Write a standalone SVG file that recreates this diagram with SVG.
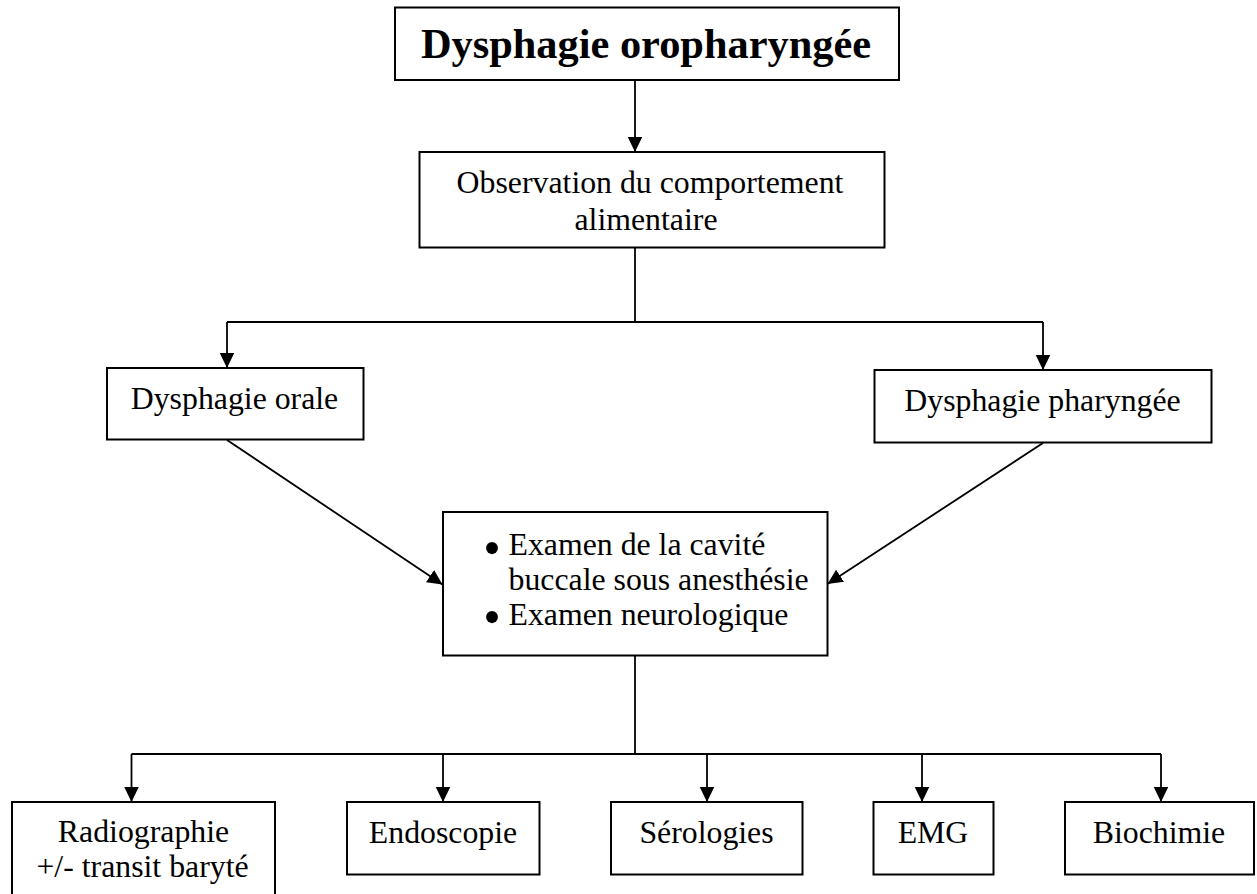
<svg xmlns="http://www.w3.org/2000/svg" width="1257" height="894" viewBox="0 0 1257 894">
  <style>
    .box { fill: #fff; stroke: #000; stroke-width: 2; }
    .wire { fill: none; stroke: #000; stroke-width: 1.8; }
    .lbl { font-family: "Liberation Serif", "Times New Roman", serif; font-size: 31.8px; fill: #000; }
    .mid { text-anchor: middle; }
    .dot { font-family: "Liberation Serif", "Times New Roman", serif; font-size: 50px; fill: #000; text-anchor: middle; }
    .title { font-family: "Liberation Serif", "Times New Roman", serif; font-size: 42.4px; font-weight: bold; fill: #000; text-anchor: middle; }
  </style>
  <defs>
    <marker id="head" markerUnits="userSpaceOnUse" markerWidth="16" markerHeight="15" refX="15" refY="7.25" orient="auto">
      <path d="M0,0 L15,7.25 L0,14.5 z" fill="#000"/>
    </marker>
  </defs>
  <rect width="1257" height="894" fill="#fff"/>

  <!-- connectors -->
  <g id="connectors">
    <line class="wire" x1="635" y1="80" x2="635" y2="152" marker-end="url(#head)"/>
    <polyline class="wire" points="635,247 635,322"/>
    <polyline class="wire" points="227,322 1043,322"/>
    <line class="wire" x1="227" y1="322" x2="227" y2="368" marker-end="url(#head)"/>
    <line class="wire" x1="1043" y1="322" x2="1043" y2="370" marker-end="url(#head)"/>
    <line class="wire" x1="227" y1="440" x2="442.5" y2="584.5" marker-end="url(#head)"/>
    <line class="wire" x1="1043" y1="443" x2="827.5" y2="584" marker-end="url(#head)"/>
    <polyline class="wire" points="635,656 635,754"/>
    <polyline class="wire" points="131.5,754 1161,754"/>
    <line class="wire" x1="131.5" y1="754" x2="131.5" y2="802" marker-end="url(#head)"/>
    <line class="wire" x1="443" y1="754" x2="443" y2="802" marker-end="url(#head)"/>
    <line class="wire" x1="707" y1="754" x2="707" y2="802" marker-end="url(#head)"/>
    <line class="wire" x1="922" y1="754" x2="922" y2="802" marker-end="url(#head)"/>
    <line class="wire" x1="1161" y1="754" x2="1161" y2="802" marker-end="url(#head)"/>
  </g>

  <g id="n-titre">
    <rect class="box" x="395" y="7.5" width="504" height="72.5"/>
    <text class="title" x="646" y="58">Dysphagie oropharyngée</text>
  </g>

  <g id="n-observation">
    <rect class="box" x="419.5" y="152" width="465" height="95.5"/>
    <text class="lbl mid" x="650" y="193">Observation du comportement</text>
    <text class="lbl mid" x="646" y="230">alimentaire</text>
  </g>

  <g id="n-orale">
    <rect class="box" x="107" y="368" width="256.5" height="71.5"/>
    <text class="lbl mid" x="234.5" y="409">Dysphagie orale</text>
  </g>

  <g id="n-pharyngee">
    <rect class="box" x="874.5" y="370" width="337" height="72.5"/>
    <text class="lbl mid" x="1042.5" y="411">Dysphagie pharyngée</text>
  </g>

  <g id="n-examens">
    <rect class="box" x="443" y="512" width="384.5" height="143.5"/>
    <text class="dot" x="492" y="565">•</text>
    <text class="lbl" x="508.5" y="555">Examen de la cavité</text>
    <text class="lbl" x="508.5" y="590">buccale sous anesthésie</text>
    <text class="dot" x="492" y="634">•</text>
    <text class="lbl" x="508.5" y="625">Examen neurologique</text>
  </g>

  <g id="n-radiographie">
    <rect class="box" x="12" y="802" width="263" height="100"/>
    <text class="lbl mid" x="143.5" y="842">Radiographie</text>
    <text class="lbl mid" x="142.5" y="877">+/- transit baryté</text>
  </g>

  <g id="n-endoscopie">
    <rect class="box" x="347" y="802" width="192.5" height="72.5"/>
    <text class="lbl mid" x="443" y="843">Endoscopie</text>
  </g>

  <g id="n-serologies">
    <rect class="box" x="611" y="802" width="191.5" height="72.5"/>
    <text class="lbl mid" x="706.5" y="843">Sérologies</text>
  </g>

  <g id="n-emg">
    <rect class="box" x="873.5" y="802" width="120" height="72.5"/>
    <text class="lbl mid" x="933" y="843">EMG</text>
  </g>

  <g id="n-biochimie">
    <rect class="box" x="1065" y="802" width="189" height="72.5"/>
    <text class="lbl mid" x="1159" y="843">Biochimie</text>
  </g>
</svg>
